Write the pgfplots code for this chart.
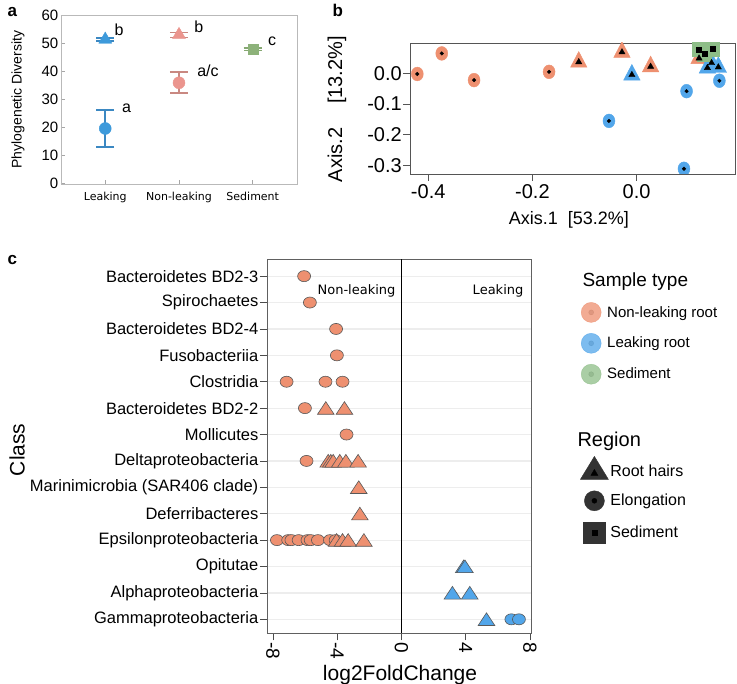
\documentclass[border=0pt]{standalone}
\usepackage{fontspec}
\setmainfont{Liberation Sans}
\newfontfamily\dv{DejaVu Sans}
\usepackage{pgfplots}
\usepackage{pgfplotstable}
\pgfplotsset{compat=1.18}
\newcommand\fs[1]{\fontsize{#1}{#1}\selectfont}

\definecolor{aBlue}{HTML}{3D9ADB}
\definecolor{aBlueD}{HTML}{3B88C2}
\definecolor{aSal}{HTML}{EB958E}
\definecolor{aSalD}{HTML}{C98881}
\definecolor{aGrn}{HTML}{8DB27A}
\definecolor{aGrnD}{HTML}{86A872}
\definecolor{sal}{HTML}{EE9070}
\definecolor{blu}{HTML}{52A6EA}
\definecolor{grn}{HTML}{8EBE88}
\definecolor{frm}{HTML}{555555}

% ---------- panel b data ----------
\pgfplotstableread{
x y
-0.421 -0.002
-0.374 0.065
-0.312 -0.022
-0.168 0.005
}\bSalCirc
\pgfplotstableread{
x y
-0.111 0.037
-0.028 0.069
0.027 0.022
0.120 0.049
}\bSalTri
\pgfplotstableread{
x y
-0.009 -0.005
0.136 0.018
0.144 0.034
0.157 0.020
}\bBluTri
\pgfplotstableread{
x y
0.159 -0.024
0.096 -0.058
-0.053 -0.155
0.091 -0.311
}\bBluCirc
\pgfplotstableread{
x y
0.120 0.078
0.130 0.063
0.146 0.080
}\bSed

% ---------- panel c data ----------
\pgfplotstableread{
x y
-6.06 14
-5.70 13
-4.07 12
-4.02 11
-7.15 10
-4.73 10
-3.67 10
-6.01 9
-3.42 8
-5.91 7
-7.75 4
-7.05 4
-6.85 4
-6.40 4
-5.85 4
-5.65 4
-5.20 4
-4.45 4
-4.10 4
}\cSalCirc
\pgfplotstableread{
x y
-4.71 9
-3.55 9
-4.56 7
-4.40 7
-4.25 7
-3.84 7
-3.46 7
-2.70 7
-2.66 6
-2.59 5
-4.04 4
-3.67 4
-3.32 4
-2.34 4
}\cSalTri
\pgfplotstableread{
x y
3.87 3
3.95 3
3.17 2
4.25 2
5.29 1
}\cBluTri
\pgfplotstableread{
x y
6.84 1
7.31 1
}\cBluCirc

\begin{document}
\begin{tikzpicture}[x=1pt,y=1pt]
\useasboundingbox (0,0) rectangle (737,-684);
\fill[white] (0,0) rectangle (737,-684);

% ================= panel a =================
\begin{axis}[at={(61pt,-184pt)}, anchor=south west, scale only axis,
  width=236pt, height=169pt,
  xmin=-0.6, xmax=2.6, ymin=-0.3, ymax=60.3,
  xtick={0,1,2}, xticklabels={Leaking,Non-leaking,Sediment},
  ytick={0,10,...,60}, tick pos=left,
  axis line style={draw=gray!55, line width=0.8pt},
  tick style={gray!70, line width=0.8pt}, tick align=inside,
  major tick length=4pt,
  x tick label style={font=\dv\fs{11}, yshift=-5pt},
  y tick label style={font=\fs{15}, inner sep=2.5pt},
  /pgf/number format/assume math mode=true,
  ylabel={Phylogenetic Diversity},
  ylabel style={font=\fs{14}, at={(rel axis cs:-0.182,0.5)}, anchor=center, rotate=0},
  clip=false]
\addplot[only marks, mark=*, mark size=6pt, color=aBlue,
  error bars/.cd, y dir=both, y explicit,
  error bar style={aBlueD, line width=1.6pt},
  error mark options={rotate=90, mark size=9pt, line width=1.6pt, aBlueD}]
  coordinates {(0,19.6) += (0,6.6) -= (0,6.6)};
\addplot[only marks, mark=triangle*, mark size=7.5pt, color=aBlue,
  error bars/.cd, y dir=both, y explicit,
  error bar style={aBlueD, line width=1.6pt},
  error mark options={rotate=90, mark size=9pt, line width=1.6pt, aBlueD}]
  coordinates {(0,51.5) += (0,0.5) -= (0,0.5)};
\addplot[only marks, mark=*, mark size=6pt, color=aSal,
  error bars/.cd, y dir=both, y explicit,
  error bar style={aSalD, line width=1.6pt},
  error mark options={rotate=90, mark size=9pt, line width=1.6pt, aSalD}]
  coordinates {(1,36) += (0,3.8) -= (0,3.7)};
\addplot[only marks, mark=triangle*, mark size=7.5pt, color=aSal,
  error bars/.cd, y dir=both, y explicit,
  error bar style={aSalD, line width=1.6pt},
  error mark options={rotate=90, mark size=9pt, line width=1.6pt, aSalD}]
  coordinates {(1,53.2) += (0,0.8) -= (0,0.9)};
\addplot[only marks, mark=square*, mark size=5pt, color=aGrn,
  error bars/.cd, y dir=both, y explicit,
  error bar style={aGrnD, line width=1.6pt},
  error mark options={rotate=90, mark size=9pt, line width=1.6pt, aGrnD}]
  coordinates {(2,48) += (0,0.5) -= (0,0.5)};
\node[anchor=base west, font=\fs{16}] at (axis cs:0.08,52.9) {b};
\node[anchor=base west, font=\fs{16}] at (axis cs:1.16,54.0) {b};
\node[anchor=base west, font=\fs{16}] at (axis cs:1.20,38.3) {a/c};
\node[anchor=base west, font=\fs{16}] at (axis cs:2.16,49.3) {c};
\node[anchor=base west, font=\fs{16}] at (axis cs:0.18,25.2) {a};
\end{axis}

% ================= panel b =================
\begin{axis}[at={(410pt,-174pt)}, anchor=south west, scale only axis,
  width=325pt, height=131pt,
  xmin=-0.435, xmax=0.189, ymin=-0.328, ymax=0.099,
  xtick={-0.4,-0.2,0}, ytick={-0.3,-0.2,-0.1,0}, tick pos=left,
  axis line style={draw=frm, line width=0.8pt},
  tick style={frm, line width=0.8pt}, tick align=outside,
  major tick length=7pt,
  /pgf/number format/.cd, fixed, fixed zerofill, precision=1, assume math mode=true, /pgfplots/.cd,
  tick label style={font=\fs{20}},
  y tick label style={inner sep=1pt},
  xlabel={Axis.1\hspace{10pt}[53.2\%]},
  xlabel style={font=\fs{18}, at={(rel axis cs:0.489,-0.35)}, anchor=center},
  ylabel={Axis.2\hspace{24pt}[13.2\%]},
  ylabel style={font=\fs{20}, at={(rel axis cs:-0.225,0.495)}, anchor=center, rotate=0},
  clip marker paths=true]
\addplot[only marks, mark=*, mark size=6pt, color=sal, mark options={yscale=1.15}] table {\bSalCirc};
\addplot[only marks, mark=triangle*, mark size=9.5pt, color=sal, mark options={yscale=1.1}] table {\bSalTri};
\addplot[only marks, mark=triangle*, mark size=9.5pt, color=blu, mark options={yscale=1.1}] table {\bBluTri};
\addplot[only marks, mark=*, mark size=6pt, color=blu, mark options={yscale=1.15}] table {\bBluCirc};
\addplot[only marks, mark=square*, mark size=7pt, color=grn] table {\bSed};
\addplot[only marks, mark=*, mark size=1.8pt, black] table {\bSalCirc};
\addplot[only marks, mark=*, mark size=1.8pt, black] table {\bBluCirc};
\addplot[only marks, mark=triangle*, mark size=3.6pt, black] table {\bSalTri};
\addplot[only marks, mark=triangle*, mark size=3.6pt, black] table {\bBluTri};
\addplot[only marks, mark=square*, mark size=2.5pt, black] table {\bSed};
\end{axis}

% ================= panel c =================
\begin{axis}[at={(267pt,-633.3pt)}, anchor=south west, scale only axis,
  width=264pt, height=374.3pt,
  xmin=-8.37, xmax=8.06, ymin=0.47, ymax=14.65,
  xtick={-8,-4,0,4,8},
  ytick={1,...,14}, tick pos=left,
  yticklabels={Gammaproteobacteria, Alphaproteobacteria, Opitutae, Epsilonproteobacteria, Deferribacteres, Marinimicrobia (SAR406 clade), Deltaproteobacteria, Mollicutes, Bacteroidetes BD2-2, Clostridia, Fusobacteriia, Bacteroidetes BD2-4, Spirochaetes, Bacteroidetes BD2-3},
  ymajorgrids, grid style={gray!14, line width=1.2pt},
  axis line style={draw=gray!75!black, line width=0.8pt},
  tick style={gray!60!black, line width=0.8pt}, tick align=outside,
  major tick length=7pt,
  /pgf/number format/assume math mode=true,
  y tick label style={font=\fs{16.5}, inner sep=1.5pt},
  x tick label style={font=\fs{19}, rotate=-90, anchor=west, inner sep=1.5pt},
  xlabel={log2FoldChange},
  xlabel style={font=\fs{21}, at={(rel axis cs:0.504,-0.112)}, anchor=center},
  ylabel={Class},
  ylabel style={font=\fs{21}, at={(rel axis cs:-0.947,0.49)}, anchor=center, rotate=0}]
\draw[black, line width=1pt] (axis cs:0,0.47) -- (axis cs:0,14.65);
\addplot[only marks, mark=*, mark size=6.5pt, mark options={yscale=0.85, fill=sal, draw=black!65, line width=0.6pt}] table {\cSalCirc};
\addplot[only marks, mark=triangle*, mark size=9.6pt, mark options={yscale=0.88, yshift=-2.2pt, fill=sal, draw=black!65, line width=0.6pt}] table {\cSalTri};
\addplot[only marks, mark=triangle*, mark size=9.6pt, mark options={yscale=0.88, yshift=-2.2pt, fill=blu, draw=black!65, line width=0.6pt}] table {\cBluTri};
\addplot[only marks, mark=*, mark size=6.5pt, mark options={yscale=0.85, fill=blu, draw=black!65, line width=0.6pt}] table {\cBluCirc};
\node[font=\dv\fs{13}] at (axis cs:-2.80,13.43) {Non-leaking};
\node[font=\dv\fs{13}] at (axis cs:6.01,13.43) {Leaking};
\end{axis}

% ================= legends =================
\node[anchor=west, font=\fs{19}] at (579,-282) {Sample type};
\begin{axis}[hide axis, at={(580pt,-302pt)}, anchor=north west, scale only axis,
  width=100pt, height=80pt, xmin=0, xmax=1, ymin=0, ymax=1,
  legend style={at={(0,1)}, anchor=north west, draw=none, fill=none,
    font=\fs{15}, row sep=10.5pt, inner sep=0pt,
    nodes={inner sep=1pt}},
  legend cell align=left]
\addlegendimage{legend image code/.code={\path[draw=none] (0pt,0) -- (26pt,0); \fill[sal, opacity=0.75] (11pt,0) circle (10pt); \fill[sal!80!black, opacity=0.35] (11pt,0) circle (2.5pt);}}
\addlegendentry{Non-leaking root}
\addlegendimage{legend image code/.code={\path[draw=none] (0pt,0) -- (26pt,0); \fill[blu, opacity=0.75] (11pt,0) circle (10pt); \fill[blu!80!black, opacity=0.35] (11pt,0) circle (2.5pt);}}
\addlegendentry{Leaking root}
\addlegendimage{legend image code/.code={\path[draw=none] (0pt,0) -- (26pt,0); \fill[grn, opacity=0.75] (11pt,0) circle (10pt); \fill[grn!80!black, opacity=0.35] (11pt,0) circle (2.5pt);}}
\addlegendentry{Sediment}
\end{axis}

\node[anchor=west, font=\fs{20}] at (574,-441) {Region};
\begin{axis}[hide axis, at={(580pt,-456pt)}, anchor=north west, scale only axis,
  width=100pt, height=80pt, xmin=0, xmax=1, ymin=0, ymax=1,
  legend style={at={(0,1)}, anchor=north west, draw=none, fill=none,
    font=\fs{16}, row sep=11pt, inner sep=0pt,
    nodes={inner sep=1pt}},
  legend cell align=left]
\addlegendimage{legend image code/.code={\path[draw=none] (0pt,0) -- (26pt,0); \fill[black!80] (-3pt,-8pt) -- (25pt,-8pt) -- (11pt,15pt) -- cycle; \fill[black] (7.5pt,-4pt) -- (14.5pt,-4pt) -- (11pt,2pt) -- cycle;}}
\addlegendentry{Root hairs}
\addlegendimage{legend image code/.code={\path[draw=none] (0pt,0) -- (26pt,0); \fill[black!80] (11pt,0) circle (10pt); \fill[black] (11pt,0) circle (2.5pt);}}
\addlegendentry{Elongation}
\addlegendimage{legend image code/.code={\path[draw=none] (0pt,0) -- (26pt,0); \fill[black!80] (0pt,-10.5pt) rectangle (22pt,10.5pt); \fill[black] (8.5pt,-2.5pt) rectangle (13.5pt,2.5pt);}}
\addlegendentry{Sediment}
\end{axis}

% panel letters
\node[anchor=base west, font=\bfseries\fs{17}] at (4,-17) {a};
\node[anchor=base west, font=\bfseries\fs{17}] at (329,-17) {b};
\node[anchor=base west, font=\bfseries\fs{17}] at (4,-265) {c};
\end{tikzpicture}
\end{document}
